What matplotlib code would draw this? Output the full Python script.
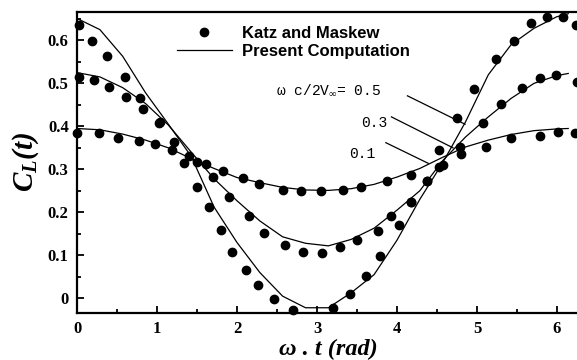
import matplotlib
matplotlib.use("Agg")
import matplotlib.pyplot as plt
from matplotlib.ticker import MultipleLocator

plt.rcParams['mathtext.fontset'] = 'custom'
plt.rcParams['mathtext.it'] = 'Liberation Serif:italic:bold'
plt.rcParams['mathtext.rm'] = 'Liberation Serif:italic:bold'
plt.rcParams['mathtext.bf'] = 'Liberation Serif:italic:bold'

# ---- Present Computation (lines) ----
line_x = [0.0, 0.286, 0.571, 0.857, 1.142, 1.428, 1.714, 1.999, 2.285, 2.570,
          2.856, 3.142, 3.427, 3.713, 3.999, 4.284, 4.570, 4.855, 5.141, 5.426,
          5.712, 5.997, 6.14]
line_05 = [0.651, 0.625, 0.563, 0.478, 0.405, 0.330, 0.212, 0.130, 0.060, 0.005,
           -0.022, -0.022, 0.013, 0.055, 0.135, 0.230, 0.315, 0.410, 0.520, 0.590,
           0.628, 0.655, 0.662]
line_03 = [0.525, 0.515, 0.490, 0.453, 0.403, 0.340, 0.278, 0.227, 0.180, 0.143,
           0.128, 0.122, 0.137, 0.163, 0.205, 0.250, 0.320, 0.375, 0.422, 0.465,
           0.500, 0.518, 0.523]
line_01 = [0.395, 0.392, 0.382, 0.368, 0.350, 0.325, 0.302, 0.281, 0.269, 0.258,
           0.252, 0.251, 0.255, 0.265, 0.282, 0.302, 0.328, 0.352, 0.368, 0.381,
           0.390, 0.394, 0.395]

# ---- Katz and Maskew (dots) ----
km05_x = [0.02, 0.19, 0.375, 0.60, 0.79, 1.02, 1.34, 1.50, 1.65, 1.80, 1.94, 2.11,
          2.26, 2.46, 2.70, 3.20, 3.41, 3.61, 3.79, 4.02, 4.18, 4.37, 4.52, 4.75,
          4.96, 5.24, 5.46, 5.67, 5.88, 6.08, 6.24]
km05_y = [0.636, 0.598, 0.564, 0.515, 0.467, 0.407, 0.315, 0.258, 0.212, 0.160,
          0.107, 0.066, 0.031, -0.001, -0.028, -0.022, 0.010, 0.053, 0.099, 0.170,
          0.225, 0.273, 0.345, 0.419, 0.486, 0.556, 0.598, 0.640, 0.655, 0.655, 0.636]
km03_x = [0.02, 0.21, 0.40, 0.61, 0.82, 1.04, 1.21, 1.50, 1.70, 1.90, 2.15, 2.34,
          2.60, 2.83, 3.06, 3.29, 3.50, 3.76, 3.93, 4.18, 4.37, 4.52, 4.79, 5.07,
          5.30, 5.56, 5.79, 5.99, 6.25]
km03_y = [0.515, 0.508, 0.491, 0.469, 0.440, 0.411, 0.364, 0.318, 0.283, 0.235,
          0.191, 0.153, 0.123, 0.107, 0.105, 0.119, 0.136, 0.157, 0.192, 0.225,
          0.273, 0.306, 0.353, 0.407, 0.452, 0.490, 0.512, 0.519, 0.504]
km01_x = [0.00, 0.27, 0.51, 0.78, 0.975, 1.19, 1.40, 1.61, 1.82, 2.07, 2.27, 2.57,
          2.80, 3.05, 3.33, 3.55, 3.88, 4.18, 4.58, 4.80, 5.11, 5.42, 5.79, 6.01, 6.23]
km01_y = [0.384, 0.384, 0.374, 0.366, 0.358, 0.345, 0.330, 0.312, 0.297, 0.281,
          0.267, 0.253, 0.250, 0.250, 0.252, 0.260, 0.274, 0.287, 0.310, 0.335,
          0.353, 0.372, 0.377, 0.386, 0.384]

xticks = [0, 1, 2, 3, 4, 5, 6]
yticks = [0, 0.1, 0.2, 0.3, 0.4, 0.5, 0.6]
ytick_labels = ['0', '0.1', '0.2', '0.3', '0.4', '0.5', '0.6']

fig = plt.figure(figsize=(5.77, 3.60), dpi=100)
W, H = 577.0, 360.0
ax = fig.add_axes([77 / W, 47.3 / H, 502.7 / W, 300.7 / H])

for ly in (line_05, line_03, line_01):
    ax.plot(line_x, ly, color='black', lw=0.9, solid_joinstyle='miter')
for xs, ys in ((km05_x, km05_y), (km03_x, km03_y), (km01_x, km01_y)):
    ax.plot(xs, ys, 'o', color='black', ms=6, clip_on=False, zorder=3)

ax.set_xlim(0, 6.2832)
ax.set_ylim(-0.0335, 0.666)

# legend (proxy handles)
h1, = ax.plot([], [], 'o', color='black', ms=6, label='Katz and Maskew')
h2, = ax.plot([], [], '-', color='black', lw=0.9, label='Present Computation')
leg = ax.legend(handles=[h1, h2], loc='upper left', bbox_to_anchor=(0.198, 0.953),
                frameon=False, borderpad=0, handlelength=3.3, handletextpad=0.65,
                labelspacing=0.15, borderaxespad=0,
                prop={'family': 'Liberation Sans', 'weight': 'bold', 'size': 12})

# annotations
mono = {'family': 'Liberation Mono', 'size': 10.5}
ax.text(3.81, 0.484, 'ω c/2V$_{\\infty}$= 0.5', ha='right', va='center', **mono)
ax.text(3.875, 0.408, '0.3', ha='right', va='center', **mono)
ax.text(3.725, 0.335, '0.1', ha='right', va='center', **mono)
ax.plot([4.13, 4.85], [0.471, 0.405], color='black', lw=0.9)
ax.plot([3.93, 4.70], [0.422, 0.350], color='black', lw=0.9)
ax.plot([3.86, 4.39], [0.362, 0.314], color='black', lw=0.9)

# axes styling
ax.set_xticks(xticks)
ax.set_yticks(yticks)
ax.set_yticklabels(ytick_labels)
ax.xaxis.set_minor_locator(MultipleLocator(0.5))
ax.yaxis.set_minor_locator(MultipleLocator(0.05))
ax.tick_params(which='both', direction='in', top=False, right=False, width=1.3)
ax.tick_params(which='major', length=5, pad=6)
ax.tick_params(which='minor', length=3)
for lab in ax.get_xticklabels() + ax.get_yticklabels():
    lab.set_fontfamily('Liberation Serif')
    lab.set_fontweight('bold')
    lab.set_fontsize(12)
for s in ax.spines.values():
    s.set_linewidth(1.6)

ax.set_xlabel('ω . t (rad)', family='Liberation Serif', weight='bold', style='italic',
              fontsize=17.5, labelpad=1)
ax.set_ylabel(r'$C_L(t)$', fontsize=21, labelpad=5)

fig.savefig('out.png', dpi=100)
